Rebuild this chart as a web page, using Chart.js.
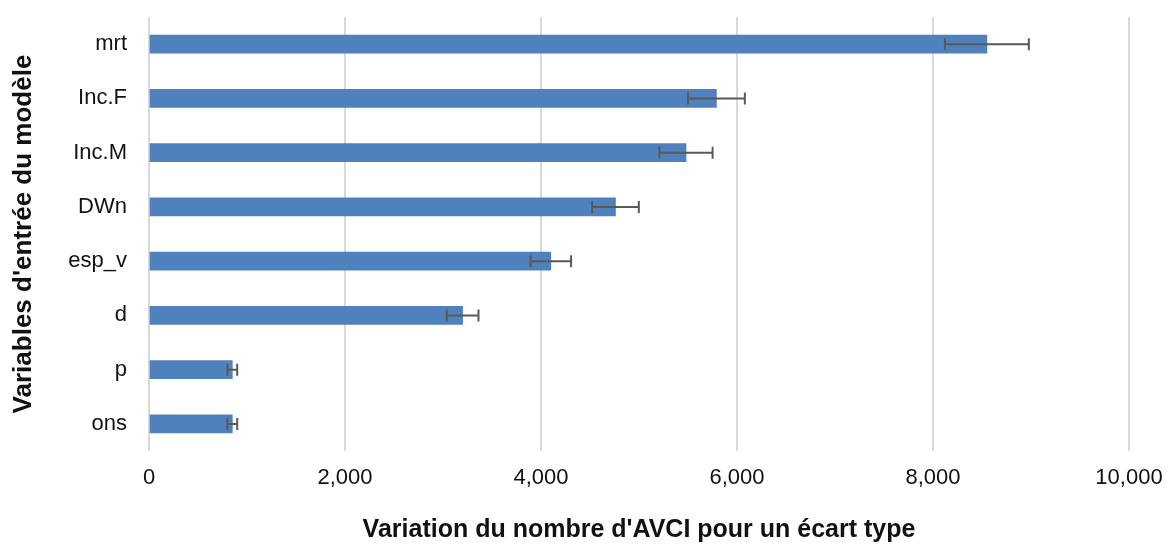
<!DOCTYPE html>
<html>
<head>
<meta charset="utf-8">
<script src="https://cdn.jsdelivr.net/npm/chart.js@4/dist/chart.umd.min.js"></script>
<style>
  html, body { margin: 0; padding: 0; background: #fff; }
  #wrap { width: 1170px; height: 545px; position: relative; }
</style>
</head>
<body>
<div id="wrap"><canvas id="chart"></canvas></div>
<script>
// values
const variables = ['mrt', 'Inc.F', 'Inc.M', 'DWn', 'esp_v', 'd', 'p', 'ons'];
const variation = [8550, 5790, 5480, 4760, 4100, 3200, 850, 850];
const errors = [428, 290, 271, 238, 207, 162, 50, 50];

const textColor = '#111111';

// draws the +/- error bars using the chart's own scales
const errorBars = {
  id: 'errorBars',
  afterDatasetsDraw(chart) {
    const ctx = chart.ctx;
    const xs = chart.scales.x;
    const meta = chart.getDatasetMeta(0);
    ctx.save();
    ctx.strokeStyle = '#595959';
    ctx.lineWidth = 2;
    meta.data.forEach((bar, i) => {
      const lo = xs.getPixelForValue(variation[i] - errors[i]);
      const hi = xs.getPixelForValue(variation[i] + errors[i]);
      const y = bar.y;
      ctx.beginPath();
      ctx.moveTo(lo, y); ctx.lineTo(hi, y);
      ctx.moveTo(lo, y - 6); ctx.lineTo(lo, y + 6);
      ctx.moveTo(hi, y - 6); ctx.lineTo(hi, y + 6);
      ctx.stroke();
    });
    ctx.restore();
  }
};

new Chart(document.getElementById('chart'), {
  type: 'bar',
  data: {
    labels: variables,
    datasets: [{
      data: variation,
      backgroundColor: '#4f81bd',
      barThickness: 18
    }]
  },
  plugins: [errorBars],
  options: {
    indexAxis: 'y',
    responsive: true,
    maintainAspectRatio: false,
    animation: false,
    layout: { padding: { top: 17, right: 41, left: 0, bottom: 0 } },
    plugins: { legend: { display: false }, tooltip: { enabled: false } },
    scales: {
      x: {
        min: 0,
        max: 10000,
        ticks: {
          stepSize: 2000,
          color: textColor,
          padding: 14,
          font: { family: 'Liberation Sans', size: 22 },
          callback: v => v.toLocaleString('en-US')
        },
        grid: { color: '#d9d9d9', lineWidth: 2, drawTicks: false },
        border: { display: false },
        title: {
          display: true,
          text: "Variation du nombre d'AVCI pour un écart type",
          color: textColor,
          font: { family: 'Liberation Sans', size: 25, weight: 'bold' },
          padding: { top: 0, bottom: 0 }
        },
        afterFit: s => { s.height = 94; s.paddingLeft = 0; s.paddingRight = 0; }
      },
      y: {
        ticks: {
          color: textColor,
          padding: 14,
          font: { family: 'Liberation Sans', size: 22 }
        },
        grid: { display: false },
        border: { display: false },
        title: {
          display: true,
          text: "Variables d'entrée du modèle",
          color: textColor,
          font: { family: 'Liberation Sans', size: 26, weight: 'bold' },
          padding: { top: 8, bottom: 0 }
        },
        afterFit: s => { s.width = 149; s.paddingTop = 0; s.paddingBottom = 0; }
      }
    }
  }
});
</script>
</body>
</html>
